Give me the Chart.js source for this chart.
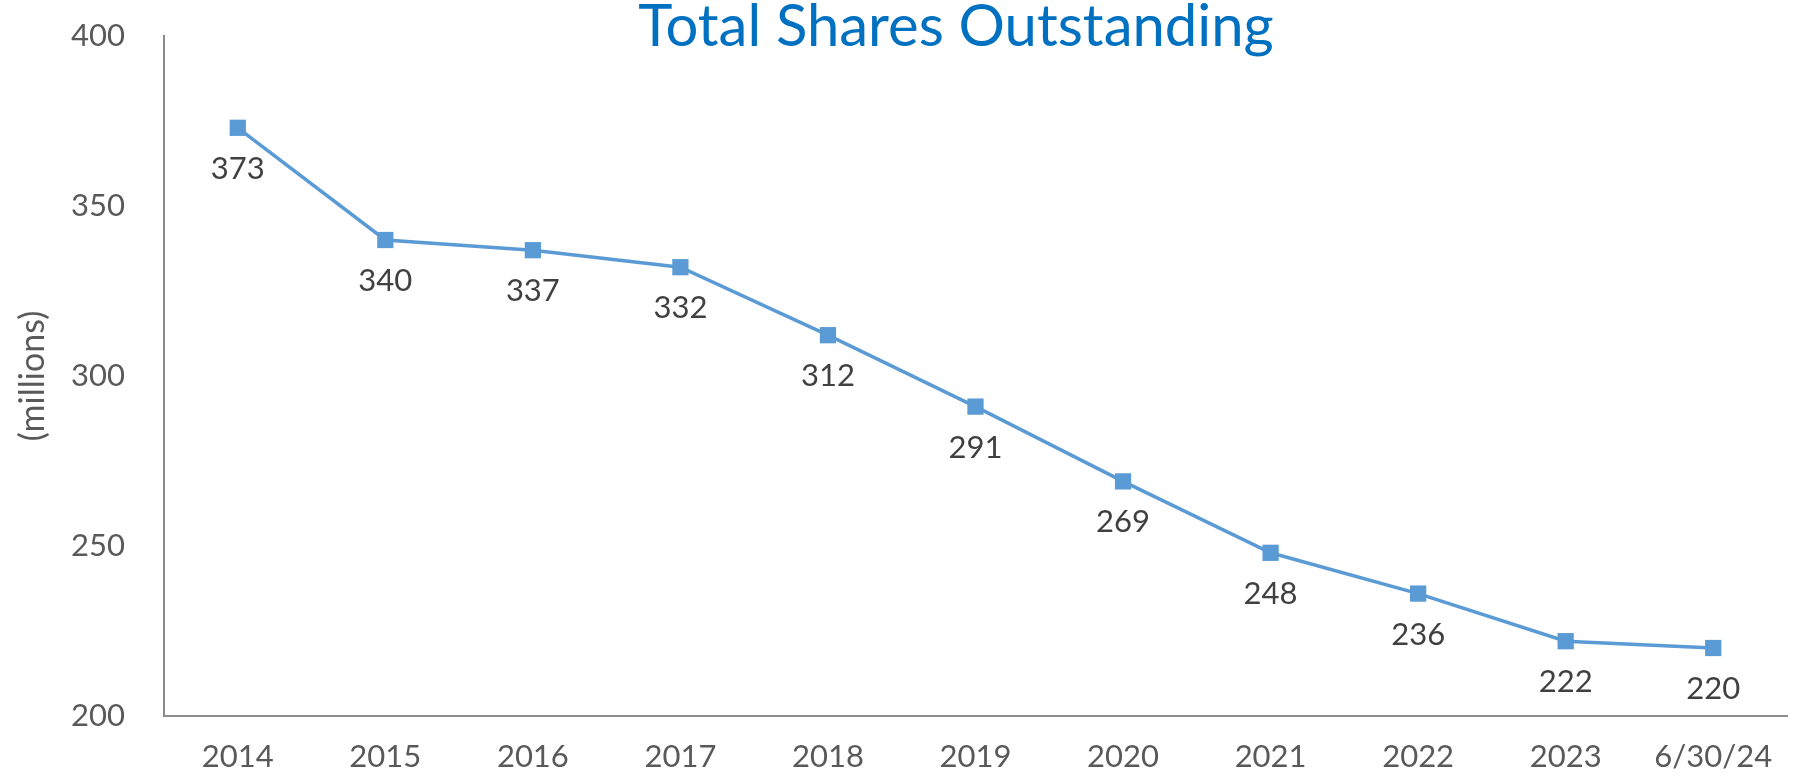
<!DOCTYPE html>
<html>
<head>
<meta charset="utf-8">
<script src="https://cdn.jsdelivr.net/npm/chart.js@4.4.1/dist/chart.umd.min.js"></script>
<style>
  html, body { margin: 0; padding: 0; background: #ffffff; }
  #wrap { width: 1801px; height: 779px; }
</style>
</head>
<body>
<div id="wrap"><canvas id="chart" width="1801" height="779"></canvas></div>
<script>
// ---- data ----
const chartTitle = 'Total Shares Outstanding';
const yAxisTitle = '(millions)';
const categories = ['2014', '2015', '2016', '2017', '2018', '2019', '2020', '2021', '2022', '2023', '6/30/24'];
const sharesOutstanding = [373, 340, 337, 332, 312, 291, 269, 248, 236, 222, 220];
const yTickValues = [200, 250, 300, 350, 400];

// ---- styles ----
const FONT = "'Century Gothic', 'URW Gothic', Lato, sans-serif";
const LINE_COLOR = '#5B9BD5';
const TITLE_COLOR = '#0070C0';
const TICK_COLOR = '#595959';
const LABEL_COLOR = '#404040';
const AXIS_COLOR = '#8C8C8C';

const titlePlugin = {
  id: 'customTitle',
  afterDraw(chart) {
    const ctx = chart.ctx;
    ctx.save();
    ctx.font = '58px ' + FONT;
    ctx.fillStyle = TITLE_COLOR;
    ctx.textAlign = 'center';
    ctx.textBaseline = 'alphabetic';
    ctx.fillText(chartTitle, 956, 46);
    ctx.restore();
  }
};

const dataLabelPlugin = {
  id: 'pointLabels',
  afterDatasetsDraw(chart) {
    const ctx = chart.ctx;
    const meta = chart.getDatasetMeta(0);
    const values = chart.data.datasets[0].data;
    ctx.save();
    ctx.font = '31px ' + FONT;
    ctx.fillStyle = LABEL_COLOR;
    ctx.textAlign = 'center';
    ctx.textBaseline = 'middle';
    meta.data.forEach((pt, i) => {
      ctx.fillText(String(values[i]), pt.x, pt.y + 41);
    });
    ctx.restore();
  }
};

new Chart(document.getElementById('chart'), {
  type: 'line',
  data: {
    labels: categories,
    datasets: [{
      data: sharesOutstanding,
      borderColor: LINE_COLOR,
      backgroundColor: LINE_COLOR,
      borderWidth: 3.5,
      tension: 0,
      fill: false,
      pointStyle: 'rect',
      pointRadius: 11.5,
      pointHoverRadius: 11.5,
      pointBackgroundColor: LINE_COLOR,
      pointBorderWidth: 0,
      clip: false
    }]
  },
  options: {
    responsive: false,
    devicePixelRatio: 1,
    animation: false,
    layout: { padding: { left: 0, right: 14, top: 36, bottom: 0 } },
    plugins: {
      legend: { display: false },
      title: { display: false },
      tooltip: { enabled: false }
    },
    scales: {
      x: {
        offset: true,
        grid: { display: true, drawOnChartArea: false, drawTicks: false },
        border: { display: true, color: AXIS_COLOR, width: 2 },
        ticks: { color: TICK_COLOR, font: { family: FONT, size: 31 }, padding: 22, maxRotation: 0, autoSkip: false },
        afterFit(scale) { scale.height = 63; }
      },
      y: {
        min: 200,
        max: 400,
        afterBuildTicks(scale) { scale.ticks = yTickValues.map(v => ({ value: v })); },
        grid: { display: true, drawOnChartArea: false, drawTicks: true, tickLength: 39, tickColor: 'rgba(0,0,0,0)' },
        border: { display: true, color: AXIS_COLOR, width: 2 },
        ticks: { color: TICK_COLOR, font: { family: FONT, size: 31 }, padding: 0 },
        title: {
          display: true,
          text: yAxisTitle,
          color: TICK_COLOR,
          font: { family: FONT, size: 34 },
          padding: { top: 13, bottom: 0 }
        },
        afterFit(scale) { scale.width = 164; }
      }
    }
  },
  plugins: [titlePlugin, dataLabelPlugin]
});
</script>
</body>
</html>
